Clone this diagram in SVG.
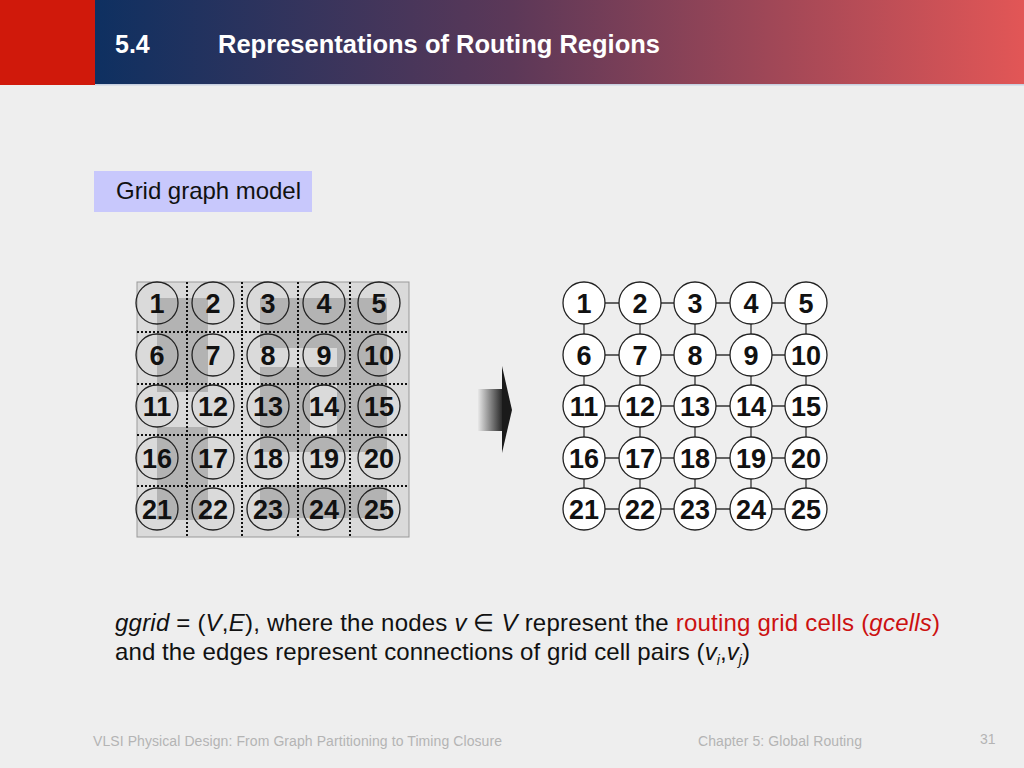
<svg xmlns="http://www.w3.org/2000/svg" width="1024" height="768" viewBox="0 0 1024 768">
<defs>
<linearGradient id="hdr" x1="0" y1="0" x2="1" y2="0">
<stop offset="0" stop-color="#0e3061"/>
<stop offset="0.45" stop-color="#5c3858"/>
<stop offset="1" stop-color="#e25656"/>
</linearGradient>
<linearGradient id="arr" x1="0" y1="0" x2="1" y2="0">
<stop offset="0" stop-color="#e8e8e8"/>
<stop offset="1" stop-color="#1a1a1a"/>
</linearGradient>
<style>
.lbl{font-family:"Liberation Sans",Arial,sans-serif;font-weight:bold;font-size:27px;fill:#111;text-anchor:middle}
.lc{fill:none;stroke:#222;stroke-width:1.3}
.rc{fill:#fff;stroke:#222;stroke-width:1.3}
.dk{fill:#b3b3b3}
.dot{stroke:#111;stroke-width:2;stroke-dasharray:2 2;fill:none}
.edge{stroke:#333;stroke-width:1.3}
.txt{font-family:"Liberation Sans",Arial,sans-serif;font-size:24px;fill:#111}
.ft{font-family:"Liberation Sans",Arial,sans-serif;font-size:14px;fill:#b4b4b4}
</style>
</defs>
<rect width="1024" height="768" fill="#eeeeee"/>
<g id="header">
<rect x="0" y="0" width="95" height="85" fill="#d0190b"/>
<rect x="95" y="0" width="929" height="85" fill="url(#hdr)"/>
<rect x="95" y="84" width="929" height="1.5" fill="#c8d0e0"/>
<text x="115" y="53" font-family="Liberation Sans, Arial, sans-serif" font-weight="bold" font-size="25" fill="#fff">5.4</text>
<text x="218" y="53" font-family="Liberation Sans, Arial, sans-serif" font-weight="bold" font-size="25" fill="#fff" textLength="442" lengthAdjust="spacingAndGlyphs">Representations of Routing Regions</text>
</g>
<g id="subtitle">
<rect x="94" y="171" width="218" height="41" fill="#c8c8fc"/>
<text x="116" y="199" font-family="Liberation Sans, Arial, sans-serif" font-size="24" fill="#111" textLength="185">Grid graph model</text>
</g>
<g id="gcell-grid">
<rect x="137" y="282" width="272" height="255" fill="#dadada" stroke="#999" stroke-width="1"/>
<rect class="dk" x="157" y="298" width="51" height="94"/>
<rect class="dk" x="157" y="427" width="51" height="93"/>
<rect class="dk" x="260" y="298" width="127" height="50"/>
<rect class="dk" x="337" y="348" width="50" height="19"/>
<rect class="dk" x="260" y="367" width="50" height="85"/>
<rect class="dk" x="337" y="367" width="50" height="85"/>
<rect class="dk" x="310" y="367" width="27" height="18"/>
<rect class="dk" x="310" y="435" width="27" height="17"/>
<rect class="dk" x="260" y="485" width="127" height="33"/>
<g class="dot">
<line x1="187" y1="282" x2="187" y2="537"/>
<line x1="242" y1="282" x2="242" y2="537"/>
<line x1="298" y1="282" x2="298" y2="537"/>
<line x1="350" y1="282" x2="350" y2="537"/>
<line x1="137" y1="332" x2="409" y2="332"/>
<line x1="137" y1="384" x2="409" y2="384"/>
<line x1="137" y1="435" x2="409" y2="435"/>
<line x1="137" y1="486" x2="409" y2="486"/>
</g>
<g id="L1"><circle class="lc" cx="157" cy="303" r="21"/><text class="lbl" x="157" y="313">1</text></g>
<g id="L2"><circle class="lc" cx="213" cy="303" r="21"/><text class="lbl" x="213" y="313">2</text></g>
<g id="L3"><circle class="lc" cx="268" cy="303" r="21"/><text class="lbl" x="268" y="313">3</text></g>
<g id="L4"><circle class="lc" cx="324" cy="303" r="21"/><text class="lbl" x="324" y="313">4</text></g>
<g id="L5"><circle class="lc" cx="379" cy="303" r="21"/><text class="lbl" x="379" y="313">5</text></g>
<g id="L6"><circle class="lc" cx="157" cy="355" r="21"/><text class="lbl" x="157" y="365">6</text></g>
<g id="L7"><circle class="lc" cx="213" cy="355" r="21"/><text class="lbl" x="213" y="365">7</text></g>
<g id="L8"><circle class="lc" cx="268" cy="355" r="21"/><text class="lbl" x="268" y="365">8</text></g>
<g id="L9"><circle class="lc" cx="324" cy="355" r="21"/><text class="lbl" x="324" y="365">9</text></g>
<g id="L10"><circle class="lc" cx="379" cy="355" r="21"/><text class="lbl" x="379" y="365">10</text></g>
<g id="L11"><circle class="lc" cx="157" cy="406" r="21"/><text class="lbl" x="157" y="416">11</text></g>
<g id="L12"><circle class="lc" cx="213" cy="406" r="21"/><text class="lbl" x="213" y="416">12</text></g>
<g id="L13"><circle class="lc" cx="268" cy="406" r="21"/><text class="lbl" x="268" y="416">13</text></g>
<g id="L14"><circle class="lc" cx="324" cy="406" r="21"/><text class="lbl" x="324" y="416">14</text></g>
<g id="L15"><circle class="lc" cx="379" cy="406" r="21"/><text class="lbl" x="379" y="416">15</text></g>
<g id="L16"><circle class="lc" cx="157" cy="458" r="21"/><text class="lbl" x="157" y="468">16</text></g>
<g id="L17"><circle class="lc" cx="213" cy="458" r="21"/><text class="lbl" x="213" y="468">17</text></g>
<g id="L18"><circle class="lc" cx="268" cy="458" r="21"/><text class="lbl" x="268" y="468">18</text></g>
<g id="L19"><circle class="lc" cx="324" cy="458" r="21"/><text class="lbl" x="324" y="468">19</text></g>
<g id="L20"><circle class="lc" cx="379" cy="458" r="21"/><text class="lbl" x="379" y="468">20</text></g>
<g id="L21"><circle class="lc" cx="157" cy="509" r="21"/><text class="lbl" x="157" y="519">21</text></g>
<g id="L22"><circle class="lc" cx="213" cy="509" r="21"/><text class="lbl" x="213" y="519">22</text></g>
<g id="L23"><circle class="lc" cx="268" cy="509" r="21"/><text class="lbl" x="268" y="519">23</text></g>
<g id="L24"><circle class="lc" cx="324" cy="509" r="21"/><text class="lbl" x="324" y="519">24</text></g>
<g id="L25"><circle class="lc" cx="379" cy="509" r="21"/><text class="lbl" x="379" y="519">25</text></g>
</g>
<g id="big-arrow">
<rect x="478" y="389" width="26" height="42" fill="url(#arr)"/>
<polygon points="502,366 512,410 502,453" fill="#1a1a1a"/>
</g>
<g id="connectors" class="edge">
<line x1="584" y1="303" x2="806" y2="303"/>
<line x1="584" y1="355" x2="806" y2="355"/>
<line x1="584" y1="406" x2="806" y2="406"/>
<line x1="584" y1="458" x2="806" y2="458"/>
<line x1="584" y1="509" x2="806" y2="509"/>
<line x1="584" y1="303" x2="584" y2="509"/>
<line x1="640" y1="303" x2="640" y2="509"/>
<line x1="695" y1="303" x2="695" y2="509"/>
<line x1="751" y1="303" x2="751" y2="509"/>
<line x1="806" y1="303" x2="806" y2="509"/>
</g>
<g id="graph">
<g id="n1"><circle class="rc" cx="584" cy="303" r="21"/><text class="lbl" x="584" y="313">1</text></g>
<g id="n2"><circle class="rc" cx="640" cy="303" r="21"/><text class="lbl" x="640" y="313">2</text></g>
<g id="n3"><circle class="rc" cx="695" cy="303" r="21"/><text class="lbl" x="695" y="313">3</text></g>
<g id="n4"><circle class="rc" cx="751" cy="303" r="21"/><text class="lbl" x="751" y="313">4</text></g>
<g id="n5"><circle class="rc" cx="806" cy="303" r="21"/><text class="lbl" x="806" y="313">5</text></g>
<g id="n6"><circle class="rc" cx="584" cy="355" r="21"/><text class="lbl" x="584" y="365">6</text></g>
<g id="n7"><circle class="rc" cx="640" cy="355" r="21"/><text class="lbl" x="640" y="365">7</text></g>
<g id="n8"><circle class="rc" cx="695" cy="355" r="21"/><text class="lbl" x="695" y="365">8</text></g>
<g id="n9"><circle class="rc" cx="751" cy="355" r="21"/><text class="lbl" x="751" y="365">9</text></g>
<g id="n10"><circle class="rc" cx="806" cy="355" r="21"/><text class="lbl" x="806" y="365">10</text></g>
<g id="n11"><circle class="rc" cx="584" cy="406" r="21"/><text class="lbl" x="584" y="416">11</text></g>
<g id="n12"><circle class="rc" cx="640" cy="406" r="21"/><text class="lbl" x="640" y="416">12</text></g>
<g id="n13"><circle class="rc" cx="695" cy="406" r="21"/><text class="lbl" x="695" y="416">13</text></g>
<g id="n14"><circle class="rc" cx="751" cy="406" r="21"/><text class="lbl" x="751" y="416">14</text></g>
<g id="n15"><circle class="rc" cx="806" cy="406" r="21"/><text class="lbl" x="806" y="416">15</text></g>
<g id="n16"><circle class="rc" cx="584" cy="458" r="21"/><text class="lbl" x="584" y="468">16</text></g>
<g id="n17"><circle class="rc" cx="640" cy="458" r="21"/><text class="lbl" x="640" y="468">17</text></g>
<g id="n18"><circle class="rc" cx="695" cy="458" r="21"/><text class="lbl" x="695" y="468">18</text></g>
<g id="n19"><circle class="rc" cx="751" cy="458" r="21"/><text class="lbl" x="751" y="468">19</text></g>
<g id="n20"><circle class="rc" cx="806" cy="458" r="21"/><text class="lbl" x="806" y="468">20</text></g>
<g id="n21"><circle class="rc" cx="584" cy="509" r="21"/><text class="lbl" x="584" y="519">21</text></g>
<g id="n22"><circle class="rc" cx="640" cy="509" r="21"/><text class="lbl" x="640" y="519">22</text></g>
<g id="n23"><circle class="rc" cx="695" cy="509" r="21"/><text class="lbl" x="695" y="519">23</text></g>
<g id="n24"><circle class="rc" cx="751" cy="509" r="21"/><text class="lbl" x="751" y="519">24</text></g>
<g id="n25"><circle class="rc" cx="806" cy="509" r="21"/><text class="lbl" x="806" y="519">25</text></g>
</g>
<g id="caption">
<text class="txt" x="115" y="631" textLength="825"><tspan font-style="italic">ggrid</tspan> = (<tspan font-style="italic">V</tspan>,<tspan font-style="italic">E</tspan>), where the nodes <tspan font-style="italic">v</tspan> ∈ <tspan font-style="italic">V</tspan> represent the <tspan fill="#cc1111">routing grid cells (</tspan><tspan fill="#cc1111" font-style="italic">gcells</tspan><tspan fill="#cc1111">)</tspan></text>
<text class="txt" x="115" y="660" textLength="635">and the edges represent connections of grid cell pairs (<tspan font-style="italic">v</tspan><tspan font-style="italic" font-size="14" dy="5">i</tspan><tspan dy="-5">,</tspan><tspan font-style="italic">v</tspan><tspan font-style="italic" font-size="14" dy="5">j</tspan><tspan dy="-5">)</tspan></text>
</g>
<g id="footer">
<text class="ft" x="93" y="746" textLength="409">VLSI Physical Design: From Graph Partitioning to Timing Closure</text>
<text class="ft" x="698" y="746" textLength="164">Chapter 5: Global Routing</text>
<text class="ft" x="980" y="744">31</text>
</g>
</svg>
